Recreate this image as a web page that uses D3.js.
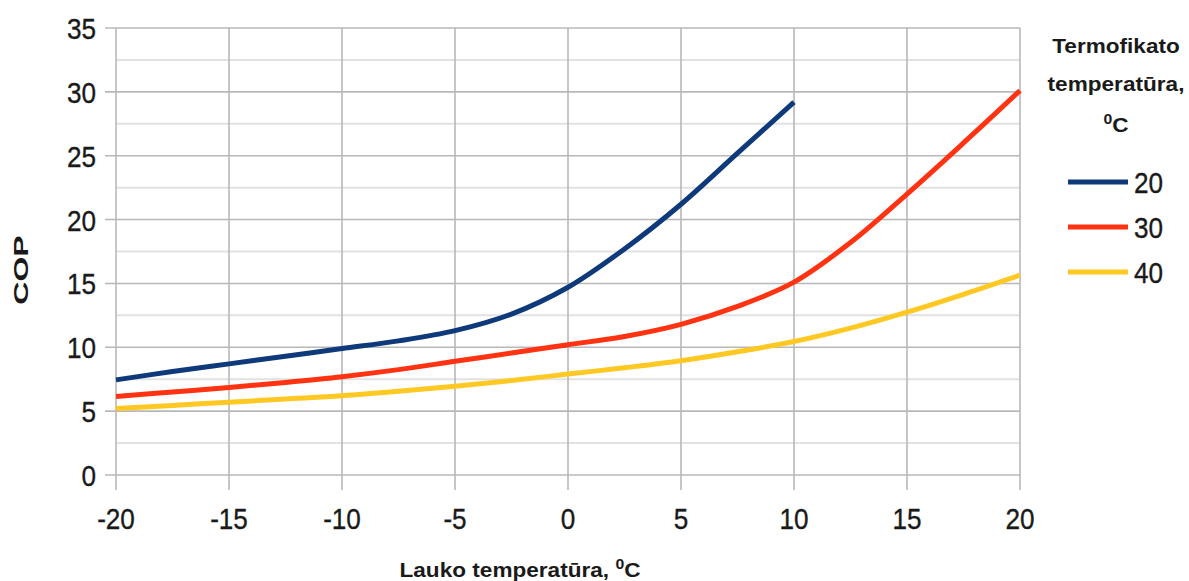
<!DOCTYPE html>
<html>
<head>
<meta charset="utf-8">
<script src="https://cdn.jsdelivr.net/npm/d3@7"></script>
<style>
  html, body { margin: 0; padding: 0; background: #fff; }
  svg { display: block; }
  text { font-family: "Liberation Sans", Arial, sans-serif; fill: #1a1a1a; }
  .num { stroke: #1a1a1a; stroke-width: 0.35; }
</style>
</head>
<body>
<svg id="chart" width="1189" height="581"></svg>
<script>
// Outdoor temperature, °C (x values)
const outdoorTemps = [-20, -17.5, -15, -12.5, -10, -7.5, -5, -2.5, 0, 2.5, 5, 7.5, 10, 12.5, 15, 17.5, 20];

// COP for each district-heating supply temperature
const cop20 = [7.45, 8.1, 8.7, 9.3, 9.9, 10.5, 11.3, 12.6, 14.7, 17.7, 21.2, 25.2, 29.2];
const cop30 = [6.15, 6.5, 6.85, 7.25, 7.7, 8.25, 8.9, 9.55, 10.2, 10.85, 11.8, 13.2, 15.1, 18.2, 22.0, 26.0, 30.1];
const cop40 = [5.2, 5.45, 5.7, 5.95, 6.2, 6.55, 6.95, 7.4, 7.9, 8.4, 8.95, 9.65, 10.45, 11.5, 12.75, 14.15, 15.65];

const seriesNames = ["20", "30", "40"];
const seriesColors = ["#0e3a7c", "#ff3312", "#ffc822"];
const seriesValues = [cop20, cop30, cop40];

const xTicks = [-20, -15, -10, -5, 0, 5, 10, 15, 20];
const yTicks = [0, 5, 10, 15, 20, 25, 30, 35];
const yMinorTicks = [2.5, 7.5, 12.5, 17.5, 22.5, 27.5, 32.5];

const svg = d3.select("#chart");
const plot = { left: 116, right: 1020, top: 28, bottom: 475 };

const x = d3.scaleLinear().domain([-20, 20]).range([plot.left, plot.right]);
const y = d3.scaleLinear().domain([0, 35]).range([plot.bottom, plot.top]);

const condensed = 0.87;
const wide = 1.13;

// minor horizontal grid
svg.append("g").selectAll("line").data(yMinorTicks).join("line")
  .attr("x1", plot.left).attr("x2", plot.right)
  .attr("y1", d => y(d)).attr("y2", d => y(d))
  .attr("stroke", "#e2e2e2").attr("stroke-width", 2);

// major horizontal grid, extending left as tick marks
svg.append("g").selectAll("line").data(yTicks).join("line")
  .attr("x1", plot.left - 11).attr("x2", plot.right)
  .attr("y1", d => y(d)).attr("y2", d => y(d))
  .attr("stroke", "#b8b8b8").attr("stroke-width", 1.6);

// vertical grid, extending below as tick marks
svg.append("g").selectAll("line").data(xTicks).join("line")
  .attr("x1", d => x(d)).attr("x2", d => x(d))
  .attr("y1", plot.top).attr("y2", plot.bottom + 15)
  .attr("stroke", "#b8b8b8").attr("stroke-width", 1.6);

// y tick labels
svg.append("g").selectAll("text").data(yTicks).join("text")
  .attr("class", "num")
  .attr("transform", d => `translate(96,${y(d) + 11}) scale(${condensed},1)`)
  .attr("text-anchor", "end")
  .attr("font-size", 30)
  .text(d => d);

// x tick labels
svg.append("g").selectAll("text").data(xTicks).join("text")
  .attr("class", "num")
  .attr("transform", d => `translate(${x(d)},${529}) scale(${condensed},1)`)
  .attr("text-anchor", "middle")
  .attr("font-size", 30)
  .text(d => d);

// axis titles
svg.append("text")
  .attr("transform", "translate(28,270) scale(0.65,1) rotate(-90)")
  .attr("text-anchor", "middle")
  .attr("font-size", 32).attr("font-weight", "bold")
  .text("COP");

const xTitle = svg.append("text")
  .attr("transform", `translate(520,577) scale(${wide},1)`)
  .attr("text-anchor", "middle")
  .attr("font-size", 20).attr("font-weight", "bold");
xTitle.append("tspan").text("Lauko temperatūra, ");
xTitle.append("tspan").attr("font-size", 14).attr("dy", -8).text("0");
xTitle.append("tspan").attr("dy", 8).text("C");

// curves
const line = d3.line()
  .x((d, i) => x(outdoorTemps[i]))
  .y(d => y(d))
  .curve(d3.curveCatmullRom.alpha(0.5));

svg.append("g").selectAll("path").data(seriesValues).join("path")
  .attr("d", d => line(d))
  .attr("fill", "none")
  .attr("stroke", (d, i) => seriesColors[i])
  .attr("stroke-width", 5)
  .attr("stroke-linecap", "butt")
  .attr("stroke-linejoin", "round");

// legend
const legendTitle = svg.append("g").attr("font-weight", "bold").attr("font-size", 20);
legendTitle.append("text").attr("transform", `translate(1116,53) scale(${wide},1)`)
  .attr("text-anchor", "middle").text("Termofikato");
legendTitle.append("text").attr("transform", `translate(1116,91) scale(${wide},1)`)
  .attr("text-anchor", "middle").text("temperatūra,");
const unit = legendTitle.append("text").attr("transform", `translate(1116,132) scale(${wide},1)`)
  .attr("text-anchor", "middle");
unit.append("tspan").attr("font-size", 14).attr("dy", -8).text("0");
unit.append("tspan").attr("dy", 8).text("C");

const legendY = d3.scalePoint().domain(seriesNames).range([182, 272]);
const legend = svg.append("g").selectAll("g").data(seriesNames).join("g")
  .attr("transform", d => `translate(0,${legendY(d)})`);
legend.append("line")
  .attr("x1", 1068).attr("x2", 1128)
  .attr("stroke", (d, i) => seriesColors[i])
  .attr("stroke-width", 5);
legend.append("text")
  .attr("class", "num")
  .attr("transform", `translate(1134,11) scale(${condensed},1)`)
  .attr("font-size", 30)
  .text(d => d);
</script>
</body>
</html>
